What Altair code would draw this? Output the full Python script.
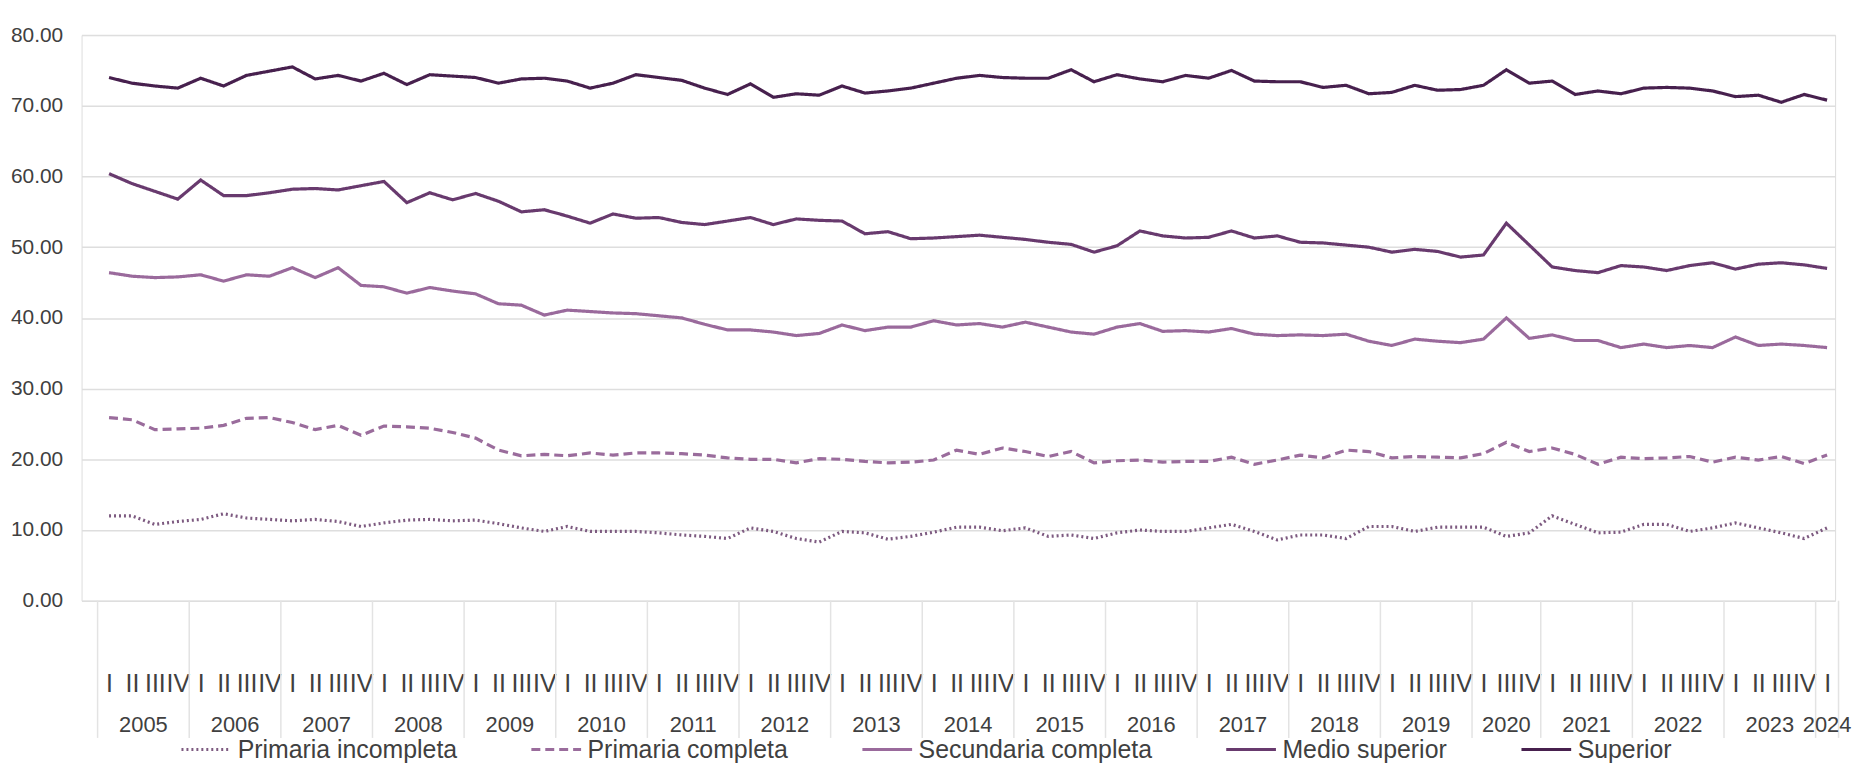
import json
import altair as alt
import pandas as pd

# ---- categories ----
years = [str(y) for y in range(2005, 2025)]
quarters = (["I", "II", "III", "IV"] * 15 + ["I", "III", "IV"] +
            ["I", "II", "III", "IV"] * 3 + ["I"])
year_of = ([str(y) for y in range(2005, 2020) for _ in range(4)] + ["2020"] * 3 +
           [str(y) for y in range(2021, 2024) for _ in range(4)] + ["2024"])

series_names = ["Primaria incompleta", "Primaria completa", "Secundaria completa",
                "Medio superior", "Superior"]

# ---- values ----
primaria_incompleta = [
    12.0, 12.0, 10.8, 11.2, 11.5, 12.3, 11.7, 11.5, 11.3, 11.5, 11.2, 10.5, 11.0, 11.4, 11.5, 11.3, 11.4, 10.9,
    10.3, 9.8, 10.5, 9.8, 9.8, 9.8, 9.6, 9.3, 9.1, 8.8, 10.3, 9.8, 8.8, 8.3, 9.8, 9.6, 8.7,
    9.1, 9.7, 10.4, 10.4, 9.9, 10.3, 9.1, 9.3, 8.8, 9.6, 10.0, 9.8, 9.8, 10.3, 10.8, 9.8, 8.6, 9.3,
    9.3, 8.8, 10.5, 10.5, 9.8, 10.4, 10.4, 10.4, 9.1, 9.6, 12.0, 10.8, 9.6, 9.7, 10.8, 10.8, 9.8, 10.3,
    11.0, 10.3, 9.6, 8.8, 10.3]
primaria_completa = [
    25.9, 25.6, 24.2, 24.3, 24.4, 24.8, 25.8, 25.9, 25.2, 24.2, 24.8, 23.4, 24.7, 24.6, 24.4, 23.8, 23.0, 21.3,
    20.5, 20.7, 20.5, 20.9, 20.6, 20.9, 20.9, 20.8, 20.6, 20.2, 20.0, 20.0, 19.5, 20.1, 20.0, 19.7, 19.5,
    19.6, 19.9, 21.3, 20.7, 21.6, 21.1, 20.4, 21.1, 19.5, 19.8, 19.9, 19.6, 19.7, 19.7, 20.3, 19.3, 19.9, 20.6,
    20.2, 21.3, 21.1, 20.2, 20.4, 20.3, 20.2, 20.8, 22.4, 21.1, 21.6, 20.7, 19.3, 20.3, 20.1, 20.2, 20.4, 19.6,
    20.3, 19.9, 20.4, 19.4, 20.6]
secundaria_completa = [
    46.4, 45.9, 45.7, 45.8, 46.1, 45.2, 46.1, 45.9, 47.1, 45.7, 47.1, 44.6, 44.4, 43.5, 44.3, 43.8, 43.4, 42.0,
    41.8, 40.4, 41.1, 40.9, 40.7, 40.6, 40.3, 40.0, 39.1, 38.3, 38.3, 38.0, 37.5, 37.8, 39.0, 38.2, 38.7,
    38.7, 39.6, 39.0, 39.2, 38.7, 39.4, 38.7, 38.0, 37.7, 38.7, 39.2, 38.1, 38.2, 38.0, 38.5, 37.7, 37.5, 37.6,
    37.5, 37.7, 36.7, 36.1, 37.0, 36.7, 36.5, 37.0, 40.0, 37.1, 37.6, 36.8, 36.8, 35.8, 36.3, 35.8, 36.1, 35.8,
    37.3, 36.1, 36.3, 36.1, 35.8]
medio_superior = [
    60.4, 59.0, 57.9, 56.8, 59.5, 57.3, 57.3, 57.7, 58.2, 58.3, 58.1, 58.7, 59.3, 56.3, 57.7, 56.7, 57.6, 56.5,
    55.0, 55.3, 54.4, 53.4, 54.7, 54.1, 54.2, 53.5, 53.2, 53.7, 54.2, 53.2, 54.0, 53.8, 53.7, 51.9, 52.2,
    51.2, 51.3, 51.5, 51.7, 51.4, 51.1, 50.7, 50.4, 49.3, 50.2, 52.3, 51.6, 51.3, 51.4, 52.3, 51.3, 51.6, 50.7,
    50.6, 50.3, 50.0, 49.3, 49.7, 49.4, 48.6, 48.9, 53.4, 50.3, 47.2, 46.7, 46.4, 47.4, 47.2, 46.7, 47.4, 47.8,
    46.9, 47.6, 47.8, 47.5, 47.0]
superior = [
    74.0, 73.2, 72.8, 72.5, 73.9, 72.8, 74.3, 74.9, 75.5, 73.8, 74.3, 73.5, 74.6, 73.0, 74.4, 74.2, 74.0, 73.2,
    73.8, 73.9, 73.5, 72.5, 73.2, 74.4, 74.0, 73.6, 72.5, 71.6, 73.1, 71.2, 71.7, 71.5, 72.8, 71.8, 72.1,
    72.5, 73.2, 73.9, 74.3, 74.0, 73.9, 73.9, 75.1, 73.4, 74.4, 73.8, 73.4, 74.3, 73.9, 75.0, 73.5, 73.4, 73.4,
    72.6, 72.9, 71.7, 71.9, 72.9, 72.2, 72.3, 72.9, 75.1, 73.2, 73.5, 71.6, 72.1, 71.7, 72.5, 72.6, 72.5, 72.1,
    71.3, 71.5, 70.5, 71.6, 70.8]

colors = ["#7d5a80", "#9a6c9c", "#9a6a9c", "#683a6e", "#47204e"]
dashes = [[2, 3], [9, 5], [1, 0], [1, 0], [1, 0]]
y_ticks = [0, 10, 20, 30, 40, 50, 60, 70, 80]

FONT = "Liberation Sans, Arial, sans-serif"
TXT = "#404040"

# ---- tables ----
all_vals = [primaria_incompleta, primaria_completa, secundaria_completa, medio_superior, superior]
rows = []
for name, vals in zip(series_names, all_vals):
    for i, v in enumerate(vals):
        rows.append({"i": i, "serie": name, "valor": v, "trimestre": quarters[i], "anio": year_of[i]})
df = pd.DataFrame(rows)

yr_rows = []
for y in years:
    idxs = [i for i, yy in enumerate(year_of) if yy == y]
    yr_rows.append({"anio": y, "c": sum(idxs) / len(idxs)})
df_years = pd.DataFrame(yr_rows)

bounds = [-0.5]
for y in years:
    idxs = [i for i, yy in enumerate(year_of) if yy == y]
    bounds.append(max(idxs) + 0.5)
df_bounds = pd.DataFrame({"b": bounds})

W, H = 1764, 569
xscale = alt.Scale(domain=[-1.2, 75.35], nice=False, zero=False)

x_axis = alt.Axis(values=list(range(len(quarters))),
                  labelExpr=json.dumps(quarters) + "[datum.value]",
                  grid=False, domain=False, ticks=False, labelPadding=83,
                  labelFont=FONT, labelFontSize=25, labelColor=TXT,
                  labelBaseline="middle", labelAngle=0, labelOverlap=False,
                  labelFlush=False, labelBound=False, title=None)

legend = alt.Legend(title=None, orient="none", legendX=98, legendY=706,
                    direction="horizontal", columns=5, symbolType="M-1,0H4",
                    symbolSize=400, symbolStrokeWidth=3, labelFont=FONT,
                    labelFontSize=25, labelColor=TXT, labelOffset=34, labelLimit=500,
                    columnPadding=68)

lines = alt.Chart(df).mark_line(strokeWidth=3.2).encode(
    x=alt.X("i:Q", scale=xscale, axis=x_axis),
    y=alt.Y("valor:Q", scale=alt.Scale(domain=[0, 80], nice=False),
            axis=alt.Axis(values=y_ticks, format=".2f", title=None, domain=False, ticks=False,
                          gridColor="#dedede", gridWidth=1.5, labelFont=FONT, labelFontSize=21,
                          labelColor=TXT, labelPadding=19)),
    color=alt.Color("serie:N", scale=alt.Scale(domain=series_names, range=colors),
                    legend=legend),
    strokeDash=alt.StrokeDash("serie:N", scale=alt.Scale(domain=series_names, range=dashes),
                              legend=legend),
    order=alt.Order("i:Q"),
)

seps = alt.Chart(df_bounds).mark_rule(color="#e3e3e3", strokeWidth=1.5).encode(
    x=alt.X("b:Q", scale=xscale, axis=x_axis),
    y=alt.value(H),
    y2=alt.value(H + 138),
)

year_text = alt.Chart(df_years).mark_text(font=FONT, fontSize=22, color=TXT,
                                          baseline="middle").encode(
    x=alt.X("c:Q", scale=xscale, axis=x_axis),
    y=alt.value(H + 125),
    text="anio:N",
)

chart = alt.layer(lines, seps, year_text).properties(
    width=W, height=H,
    padding={"left": 2, "top": 14, "right": 0, "bottom": 0},
).configure_view(stroke=None).configure(background="white")

chart.save("out.html", embed_options={"renderer": "svg", "actions": False})
